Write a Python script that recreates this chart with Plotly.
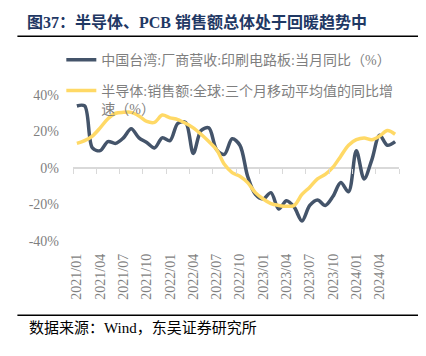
import plotly.graph_objects as go

months = [
    "2021/01", "2021/02", "2021/03", "2021/04", "2021/05", "2021/06",
    "2021/07", "2021/08", "2021/09", "2021/10", "2021/11", "2021/12",
    "2022/01", "2022/02", "2022/03", "2022/04", "2022/05", "2022/06",
    "2022/07", "2022/08", "2022/09", "2022/10", "2022/11", "2022/12",
    "2023/01", "2023/02", "2023/03", "2023/04", "2023/05", "2023/06",
    "2023/07", "2023/08", "2023/09", "2023/10", "2023/11", "2023/12",
    "2024/01", "2024/02", "2024/03", "2024/04", "2024/05", "2024/06",
]

pcb_taiwan = [
    34, 34, 11, 9.5, 14.5, 13.5, 16.5, 21.5, 16.5, 14, 11, 16.5,
    15, 24.5, 25, 8, 20.5, 22, 10, 7.5, 16, 12.5, -4.5, -14.5,
    -17, -13.5, -22.5, -18, -21.5, -29, -20.5, -17.5, -20.5, -15.5, -8, -13,
    9.5, -6, 4.5, 18, 12.5, 14.5,
]

semi_global = [
    13.5, 15, 17.5, 22, 27, 30, 30.5, 30.5, 28.5, 25.5, 25, 29,
    27.5, 26.5, 24.5, 22, 18.5, 14.5, 10, 2, -2.5, -4.5, -8, -13.5,
    -17, -19.5, -20.5, -21, -20.5, -14.5, -10.5, -6, -3.5, 0.5, 6.5, 12.5,
    15.5, 16.5, 15.5, 17.5, 20.5, 18.5,
]

name_pcb = "中国台湾:厂商营收:印刷电路板:当月同比（%）"
name_semi = "半导体:销售额:全球:三个月移动平均值的同比增<br>速（%）"
title_text = "图37：半导体、PCB 销售额总体处于回暖趋势中"
source_text = "数据来源：Wind，东吴证券研究所"
y_ticks = [-40, -20, 0, 20, 40]
y_tick_text = ["-40%", "-20%", "0%", "20%", "40%"]

label_every = 3
xs = list(range(len(months)))
label_vals = xs[::label_every]
label_text = months[::label_every]
boundary_vals = [i - 0.5 for i in range(0, len(months) + 1, label_every)]

# the page has an 8px body margin: work in page pixels, figure is shifted by 8
OFF = 8
W, H = 426 - OFF, 356 - OFF
PL, PR, PT, PB = 72.7, 399.3, 95.0, 241.5   # plot area in page pixels
PW, PH = PR - PL, PB - PT


def px(x):
    return (x - PL) / PW


def py(y):
    return (PB - y) / PH


SERIF = "Liberation Serif, Noto Sans CJK SC, serif"
GRAY = "#7f7f7f"
DARK = "#44546A"
YELLOW = "#FFD966"

fig = go.Figure()
fig.add_trace(go.Scatter(
    x=xs, y=pcb_taiwan, name=name_pcb, mode="lines",
    line=dict(color=DARK, width=3.5, shape="spline", smoothing=0.9),
    xaxis="x", yaxis="y", legend="legend", showlegend=True,
))
fig.add_trace(go.Scatter(
    x=xs, y=semi_global, name=name_semi, mode="lines",
    line=dict(color=YELLOW, width=3.5, shape="spline", smoothing=0.9),
    xaxis="x2", yaxis="y", legend="legend2", showlegend=True,
))

xr = [-0.5, len(months) - 0.5]

fig.update_layout(
    width=W, height=H,
    showlegend=True,
    margin=dict(l=PL - OFF, r=W - (PR - OFF), t=PT - OFF, b=H - (PB - OFF)),
    paper_bgcolor="white", plot_bgcolor="white",
    font=dict(family=SERIF, color=GRAY, size=14),
    title=dict(
        text=title_text, xref="container", yref="container",
        x=(27 - OFF) / W, xanchor="left", y=1 - (22 - OFF) / H, yanchor="middle",
        pad=dict(l=0, r=0, t=0, b=0),
        font=dict(family=SERIF, size=16, color="#1F3864", weight="bold"),
    ),
    xaxis=dict(
        range=xr, tickmode="array", tickvals=label_vals, ticktext=label_text,
        tickangle=-90, ticks="", showline=False, showgrid=False, zeroline=False,
        tickfont=dict(family=SERIF, size=14, color=GRAY),
        ticklabelstandoff=9,
    ),
    xaxis2=dict(
        range=xr, overlaying="x", anchor="free", position=0.5,
        tickmode="array", tickvals=boundary_vals, showticklabels=False,
        ticks="outside", ticklen=5, tickwidth=1, tickcolor="#d9d9d9",
        showline=False, showgrid=False, zeroline=False,
    ),
    yaxis=dict(
        range=[-40, 40], tickmode="array", tickvals=y_ticks, ticktext=y_tick_text,
        showgrid=False, zeroline=True,
        zerolinecolor="#d9d9d9", zerolinewidth=1.5, showline=False,
        tickfont=dict(family=SERIF, size=14, color=GRAY),
        ticklabelstandoff=13,
    ),
    legend=dict(
        x=px(61), xanchor="left", y=py(60), yanchor="middle",
        bgcolor="rgba(0,0,0,0)", font=dict(family=SERIF, size=14, color=GRAY),
    ),
    legend2=dict(
        x=px(61), xanchor="left", y=py(100), yanchor="middle",
        valign="top",
        bgcolor="rgba(0,0,0,0)", font=dict(family=SERIF, size=14, color=GRAY),
    ),
    shapes=[
        dict(type="line", xref="paper", yref="paper",
             x0=px(17), x1=px(419), y0=py(36), y1=py(36),
             line=dict(color="black", width=1.5)),
        dict(type="line", xref="paper", yref="paper",
             x0=px(17), x1=px(419), y0=py(316), y1=py(316),
             line=dict(color="black", width=1.5)),
    ],
    annotations=[
        dict(text=source_text, xref="paper", yref="paper",
             x=px(27), xanchor="left", y=py(329), yanchor="middle",
             showarrow=False,
             font=dict(family=SERIF, size=15, color="black")),
    ],
)

fig.write_html("out.html")
